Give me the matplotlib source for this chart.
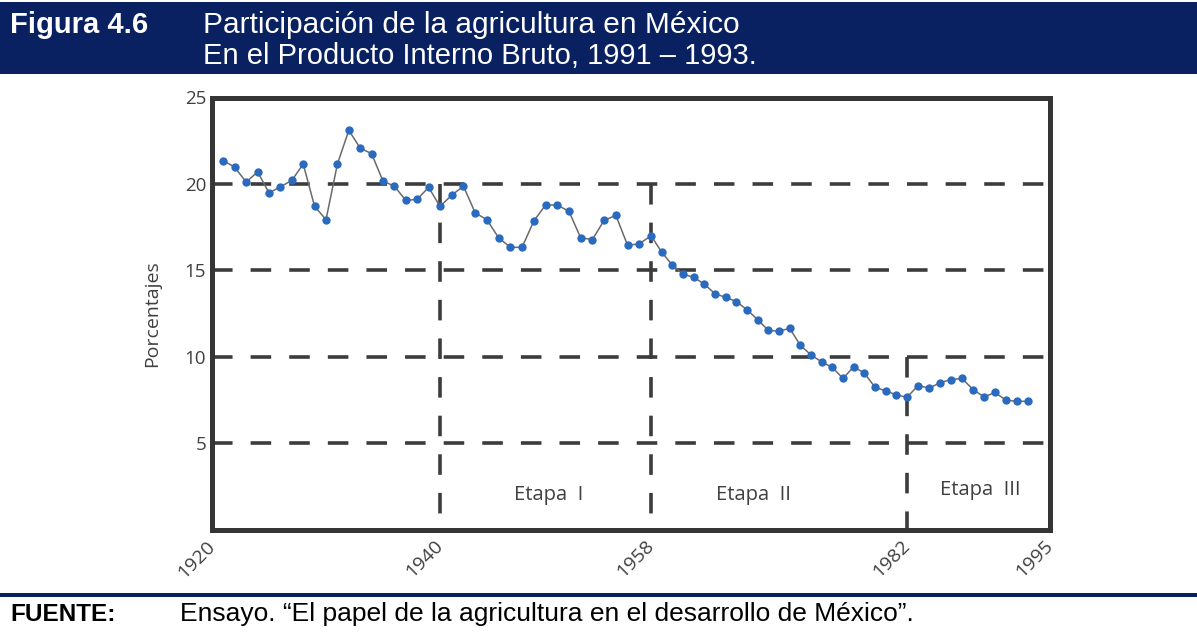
import numpy as np
import matplotlib
matplotlib.use("Agg")
import matplotlib.pyplot as plt
from matplotlib.patches import Rectangle

# participación de la agricultura en el PIB (%), 1921-1993
years = list(range(1921, 1994))
share = [21.35, 20.96, 20.10, 20.70, 19.48, 19.83, 20.20, 21.15, 18.70, 17.93,
         21.15, 23.10, 22.07, 21.75, 20.16, 19.87, 19.04, 19.11, 19.80, 18.70,
         19.35, 19.87, 18.32, 17.93, 16.88, 16.33, 16.33, 17.85, 18.78, 18.78,
         18.41, 16.88, 16.78, 17.89, 18.18, 16.45, 16.53, 17.00, 16.05, 15.30,
         14.78, 14.59, 14.20, 13.64, 13.44, 13.19, 12.72, 12.14, 11.52, 11.48,
         11.64, 10.66, 10.10, 9.70, 9.38, 8.74, 9.42, 9.05, 8.23, 8.02,
         7.79, 7.65, 8.33, 8.18, 8.49, 8.68, 8.74, 8.10, 7.67, 7.93,
         7.48, 7.42, 7.42]

tick_years = [1920, 1940, 1958, 1982, 1995]
tick_pos = [0.0, 0.2721, 0.5239, 0.8294, 1.0]   # eje dibujado a mano, no lineal
grid_levels = [5, 10, 15, 20]
y_ticks = [5, 10, 15, 20, 25]
stage_breaks = [1940, 1958, 1982]
stage_tops = [20, 20, 10]
stage_names = ["Etapa  I", "Etapa  II", "Etapa  III"]

NAVY = "#0a2161"
DARK = "#353535"

plt.rcParams["lines.scale_dashes"] = False

W, H = 1197, 632
fig = plt.figure(figsize=(W / 100, H / 100), dpi=100)

# barra del título
fig.patches.append(Rectangle((0, 1 - 74 / H), 1, 72 / H, transform=fig.transFigure,
                             facecolor=NAVY, edgecolor="none"))
fig.text(10 / W, 1 - 33 / H, "Figura 4.6", color="white", fontsize=21,
         fontweight="bold", family="Liberation Sans", va="baseline")
fig.text(203 / W, 1 - 33 / H, "Participación de la agricultura en México",
         color="white", fontsize=21.5, family="Liberation Sans", va="baseline")
fig.text(203 / W, 1 - 64 / H, "En el Producto Interno Bruto, 1991 – 1993.",
         color="white", fontsize=21, family="Liberation Sans", va="baseline")

# línea y fuente al pie
fig.patches.append(Rectangle((0, 1 - 597 / H), 1, 4 / H, transform=fig.transFigure,
                             facecolor=NAVY, edgecolor="none"))
fig.text(10 / W, 1 - 621 / H, "FUENTE:", color="black", fontsize=17.5,
         fontweight="bold", family="Liberation Sans", va="baseline")
fig.text(180 / W, 1 - 621 / H,
         "Ensayo. “El papel de la agricultura en el desarrollo de México”.",
         color="black", fontsize=19, family="Liberation Sans", va="baseline")

ax = fig.add_axes([212 / W, 1 - 529.5 / H, 838 / W, 432 / H])


def fwd(x):
    return np.interp(x, tick_years, tick_pos)


def inv(v):
    return np.interp(v, tick_pos, tick_years)


ax.set_xscale("function", functions=(fwd, inv))
ax.set_xlim(1920, 1995)
ax.set_ylim(0, 25)

dash = dict(color="#3c3c3c", lw=2.6, dashes=(14.8, 13), dash_capstyle="butt")
for lvl in grid_levels:
    ax.plot([1920, 1995], [lvl, lvl], zorder=1, **dash)
for yr, top in zip(stage_breaks, stage_tops):
    ax.plot([yr, yr], [top, 0], zorder=1, **dash)

ax.plot(years, share, color="#6a6a6a", lw=1.1, zorder=2)
ax.plot(years, share, ls="none", marker="o", ms=6, color="#2a6abf",
        markeredgewidth=0, zorder=3)

txt = dict(family="Open Sans", color="#404040", fontsize=14.5)
ax.text(1949.3, 2.0, stage_names[0], ha="center", va="center", **txt)
ax.text(1967.6, 2.0, stage_names[1], ha="center", va="center", **txt)
ax.text(1988.7, 2.3, stage_names[2], ha="center", va="center", **txt)

for s in ax.spines.values():
    s.set_linewidth(3.6)
    s.set_color(DARK)

ax.set_yticks(y_ticks)
ax.set_yticklabels([str(v) for v in y_ticks], **dict(txt, fontsize=13.5))
ax.tick_params(axis="y", length=0, pad=4.3)
ax.set_xticks(tick_years)
ax.set_xticklabels([str(v) for v in tick_years], rotation=45, ha="right",
                   va="center", rotation_mode="anchor", **dict(txt, fontsize=14))
ax.tick_params(axis="x", length=0, pad=10)
ax.set_ylabel("Porcentajes", labelpad=17, **dict(txt, fontsize=14))

fig.savefig("out.png", dpi=100)
